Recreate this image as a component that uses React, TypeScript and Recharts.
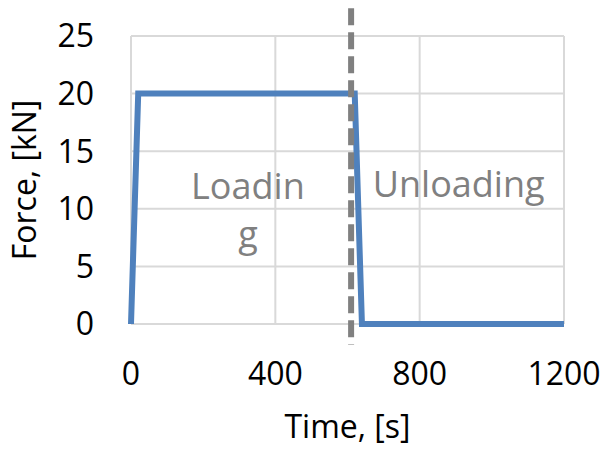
import React from 'react'
import {
  LineChart,
  Line,
  XAxis,
  YAxis,
  CartesianGrid,
  ReferenceLine,
  ReferenceDot,
  Label,
} from 'recharts'

// load history: ramp up, hold, ramp down, rest
const timeS = [0, 20, 620, 640, 1200]
const forceKN = [0, 20, 20, 0, 0]

const xTicks = [0, 400, 800, 1200]
const yTicks = [0, 5, 10, 15, 20, 25]

// phase boundary marker
const switchTime = 610
const switchSpan = [27.4, -1.8]

const FONT = '"Open Sans", "Noto Sans", sans-serif'
const GRID = '#d9d9d9'
const BLUE = '#4f81bd'
const GREY = '#808080'

const data = timeS.map((t, i) => ({ t, f: forceKN[i] }))

const phaseText = (value: string) => ({
  value,
  position: 'center' as const,
  fill: GREY,
  fontSize: 36,
  fontFamily: FONT,
})

function ForceTitle() {
  return (
    <text
      x={36}
      y={180}
      transform="rotate(-90 36 180)"
      textAnchor="middle"
      fontSize={32}
      fontFamily={FONT}
      fill="#000"
    >
      Force, [kN]
    </text>
  )
}

export default function App() {
  return (
    <div style={{ position: 'absolute', left: 0, top: 0, width: 608, height: 450, background: '#fff' }}>
      <LineChart
        width={608}
        height={450}
        data={data}
        margin={{ top: 36, right: 44, bottom: 0, left: 0 }}
        style={{ fontFamily: FONT }}
      >
        <CartesianGrid stroke={GRID} strokeWidth={2} />
        <XAxis
          dataKey="t"
          type="number"
          domain={[0, 1200]}
          ticks={xTicks}
          height={126}
          axisLine={false}
          tickLine={false}
          tickSize={0}
          tickMargin={38}
          tick={{ fill: '#000', fontSize: 32, fontFamily: FONT }}
        >
          <Label
            value="Time, [s]"
            position="insideBottom"
            offset={12}
            fill="#000"
            fontSize={32}
            fontFamily={FONT}
          />
        </XAxis>
        <YAxis
          type="number"
          domain={[0, 25]}
          ticks={yTicks}
          width={131}
          axisLine={false}
          tickLine={false}
          tickSize={0}
          tickMargin={37}
          tick={{ fill: '#000', fontSize: 32, fontFamily: FONT }}
        >
          <Label content={<ForceTitle />} />
        </YAxis>
        <Line
          dataKey="f"
          stroke={BLUE}
          strokeWidth={6}
          dot={false}
          activeDot={false}
          isAnimationActive={false}
        />
        <ReferenceLine
          segment={[
            { x: switchTime, y: switchSpan[0] },
            { x: switchTime, y: switchSpan[1] },
          ]}
          ifOverflow="visible"
          stroke={GREY}
          strokeWidth={6}
          strokeDasharray="17 7"
        />
        <ReferenceDot x={324} y={12} r={0} ifOverflow="visible" stroke="none" label={phaseText('Loadin')} />
        <ReferenceDot x={324} y={7.8} r={0} ifOverflow="visible" stroke="none" label={phaseText('g')} />
        <ReferenceDot x={908} y={12.1} r={0} ifOverflow="visible" stroke="none" label={phaseText('Unloading')} />
      </LineChart>
    </div>
  )
}
